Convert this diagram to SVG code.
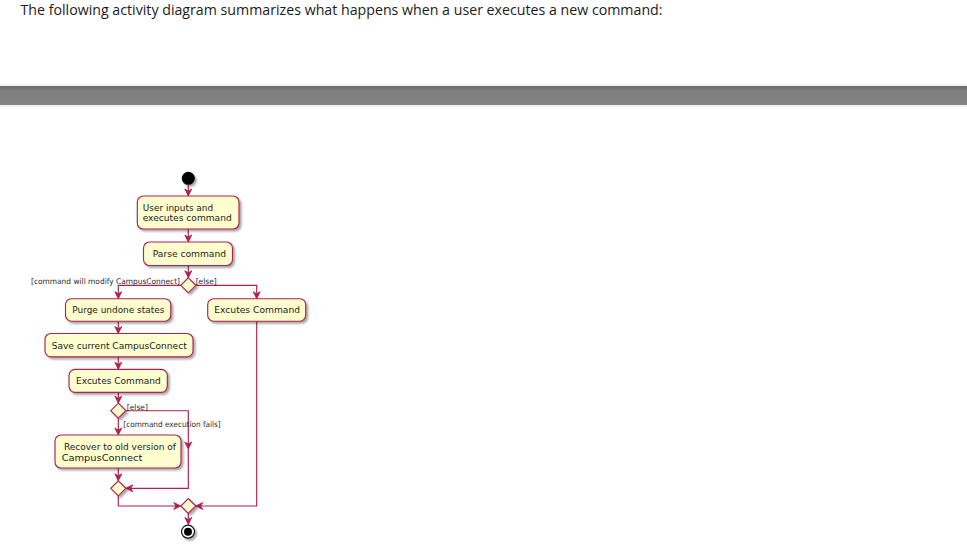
<svg xmlns="http://www.w3.org/2000/svg" width="967" height="560" viewBox="0 0 967 560">
<style>
.hdr{font-family:"Open Sans","Noto Sans","DejaVu Sans",sans-serif;font-size:14.5px;fill:#1b1b1b}
.act{fill:#FEFECE;stroke:#B0204F;stroke-width:1.15}
.dia{fill:#FEFECE;stroke:#B0204F;stroke-width:1.15}
.t{font-family:"DejaVu Sans","Liberation Sans",sans-serif;font-size:8.8px;fill:#222}
.g{font-family:"DejaVu Sans","Liberation Sans",sans-serif;font-size:7.8px;fill:#2a2a2a}
.ln{fill:none;stroke:#B0204F;stroke-width:1.15}
</style>
<defs>
<linearGradient id="band" x1="0" y1="0" x2="0" y2="1">
<stop offset="0" stop-color="#6c6c6c"/>
<stop offset="0.3" stop-color="#7e7e7e"/>
<stop offset="1" stop-color="#858585"/>
</linearGradient>
<filter id="sh" x="-20%" y="-20%" width="150%" height="160%">
<feGaussianBlur in="SourceAlpha" stdDeviation="1"/>
<feOffset dx="2" dy="2" result="b"/>
<feComponentTransfer><feFuncA type="linear" slope="0.35"/></feComponentTransfer>
<feMerge><feMergeNode/><feMergeNode in="SourceGraphic"/></feMerge>
</filter>
<marker id="ah" markerUnits="userSpaceOnUse" markerWidth="10" markerHeight="10" refX="0" refY="0" viewBox="-8 -5 10 10" orient="auto">
<path d="M0,0 L-7,-3.5 L-5,0 L-7,3.5 Z" fill="#B0204F" stroke="#B0204F" stroke-width="0.8"/>
</marker>
</defs>
<rect width="967" height="560" fill="#fff"/>
<text class="hdr" x="20.5" y="14.5" textLength="642" lengthAdjust="spacingAndGlyphs">The following activity diagram summarizes what happens when a user executes a new command:</text>
<rect x="0" y="84" width="967" height="23" fill="#f0f0f0"/>
<rect x="0" y="86" width="967" height="19" fill="url(#band)"/>

<g id="connectors">
<path class="ln" marker-end="url(#ah)" d="M188.3,185 L188.3,196"/>
<path class="ln" marker-end="url(#ah)" d="M188.3,229 L188.3,242"/>
<path class="ln" marker-end="url(#ah)" d="M188.3,265.5 L188.3,277.8"/>
<path class="ln" marker-end="url(#ah)" d="M180.8,285.3 L118.3,285.3 L118.3,298.7"/>
<path class="ln" marker-end="url(#ah)" d="M195.8,285.3 L256.7,285.3 L256.7,298.7"/>
<path class="ln" marker-end="url(#ah)" d="M118.3,321.2 L118.3,333.5"/>
<path class="ln" marker-end="url(#ah)" d="M118.3,356.8 L118.3,369.3"/>
<path class="ln" marker-end="url(#ah)" d="M118.3,392.3 L118.3,403.2"/>
<path class="ln" marker-end="url(#ah)" d="M118.3,418.2 L118.3,435"/>
<path class="ln" marker-end="url(#ah)" d="M125.8,410.7 L188.3,410.7 L188.3,449"/>
<path class="ln" marker-end="url(#ah)" d="M188.3,449 L188.3,488.3 L125.8,488.3"/>
<path class="ln" marker-end="url(#ah)" d="M118.3,468 L118.3,480.8"/>
<path class="ln" marker-end="url(#ah)" d="M118.3,495.8 L118.3,506 L180.8,506"/>
<path class="ln" marker-end="url(#ah)" d="M256.7,321.2 L256.7,506 L195.8,506"/>
<path class="ln" marker-end="url(#ah)" d="M188.3,513.5 L188.3,524.5"/>
</g>

<g id="start"><circle cx="188.3" cy="178.3" r="6.5" fill="#000" filter="url(#sh)"/></g>

<g id="n1"><rect class="act" x="137.3" y="196" width="101.7" height="33" rx="6" filter="url(#sh)"/>
<text class="t" x="142.7" y="210.5" textLength="70.5" lengthAdjust="spacingAndGlyphs">User inputs and</text>
<text class="t" x="142.7" y="221" textLength="89" lengthAdjust="spacingAndGlyphs">executes command</text></g>

<g id="n2"><rect class="act" x="143.5" y="242" width="89" height="23.5" rx="6" filter="url(#sh)"/>
<text class="t" x="152.7" y="257.3" textLength="73.3" lengthAdjust="spacingAndGlyphs">Parse command</text></g>

<g id="d1"><path class="dia" d="M188.3,277.8 L195.8,285.3 L188.3,292.8 L180.8,285.3 Z" filter="url(#sh)"/></g>
<text class="g" x="31" y="284" textLength="149" lengthAdjust="spacingAndGlyphs">[command will modify CampusConnect]</text>
<text class="g" x="195.7" y="284" textLength="21" lengthAdjust="spacingAndGlyphs">[else]</text>

<g id="n3"><rect class="act" x="65.5" y="298.7" width="105.3" height="22.5" rx="6" filter="url(#sh)"/>
<text class="t" x="72.3" y="313.2" textLength="92" lengthAdjust="spacingAndGlyphs">Purge undone states</text></g>

<g id="n4"><rect class="act" x="207.7" y="298.7" width="98" height="22.5" rx="6" filter="url(#sh)"/>
<text class="t" x="214.3" y="313.2" textLength="85.7" lengthAdjust="spacingAndGlyphs">Excutes Command</text></g>

<g id="n5"><rect class="act" x="45" y="333.5" width="148" height="23.3" rx="6" filter="url(#sh)"/>
<text class="t" x="51.7" y="348.5" textLength="135" lengthAdjust="spacingAndGlyphs">Save current CampusConnect</text></g>

<g id="n6"><rect class="act" x="69" y="369.3" width="98.3" height="23" rx="6" filter="url(#sh)"/>
<text class="t" x="76" y="384" textLength="84.7" lengthAdjust="spacingAndGlyphs">Excutes Command</text></g>

<g id="d2"><path class="dia" d="M118.3,403.2 L125.8,410.7 L118.3,418.2 L110.8,410.7 Z" filter="url(#sh)"/></g>
<text class="g" x="126.7" y="410" textLength="21.3" lengthAdjust="spacingAndGlyphs">[else]</text>
<text class="g" x="123.3" y="426.7" textLength="97.4" lengthAdjust="spacingAndGlyphs">[command execution fails]</text>

<g id="n7"><rect class="act" x="55" y="435" width="126" height="33" rx="6" filter="url(#sh)"/>
<text class="t" x="64" y="450.3" textLength="112" lengthAdjust="spacingAndGlyphs">Recover to old version of</text>
<text class="t" x="61.7" y="460.8" textLength="80.6" lengthAdjust="spacingAndGlyphs">CampusConnect</text></g>

<g id="d3"><path class="dia" d="M118.3,480.8 L125.8,488.3 L118.3,495.8 L110.8,488.3 Z" filter="url(#sh)"/></g>
<g id="d4"><path class="dia" d="M188.3,498.5 L195.8,506 L188.3,513.5 L180.8,506 Z" filter="url(#sh)"/></g>

<g id="end"><circle cx="188" cy="531.7" r="6.5" fill="#fff" stroke="#111" stroke-width="1.2" filter="url(#sh)"/>
<circle cx="188" cy="531.7" r="4" fill="#000"/></g>
</svg>
